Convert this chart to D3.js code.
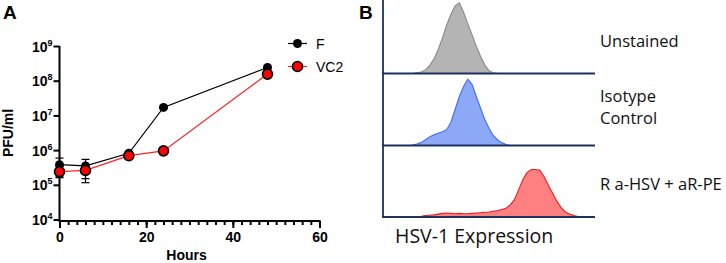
<!DOCTYPE html>
<html>
<head>
<meta charset="utf-8">
<script src="https://cdn.jsdelivr.net/npm/d3@7"></script>
<style>
  html, body { margin: 0; padding: 0; background: #fff; }
  svg { display: block; }
</style>
</head>
<body>
<svg id="chart" width="726" height="263"></svg>
<script>
// Panel A: growth curve
const hours = [0, 6, 16, 24, 48];
const fTiter = [3.8e5, 3.5e5, 8.1e5, 1.7e7, 2.4e8];
const fUpper = [5.9e5, 5.4e5, 8.6e5, 1.8e7, 2.5e8];
const fLower = [1.7e5, 1.15e5, 7.6e5, 1.6e7, 2.3e8];
const vc2Titer = [2.4e5, 2.6e5, 6.9e5, 9.5e5, 1.55e8];
const vc2Upper = [3.4e5, 2.9e5, 7.2e5, 9.9e5, 1.6e8];
const vc2Lower = [1.6e5, 1.5e5, 6.6e5, 9.1e5, 1.5e8];
const yTicks = [4, 5, 6, 7, 8, 9];
const xTicks = [0, 20, 40, 60];

// Panel B: flow histograms (counts per channel, % of scale)
const channels = d3.range(0, 101, 2);
const unstained = [0,0,0,0,0,0,0, 0,1,2,5,11,20,33,49,67,82,94,98,85,69,54,38,24,12,4,1,0,
  0,0,0,0,0,0,0,0,0,0,0,0,0,0,0,0,0,0,0,0,0,0,0];
const isotype = [0,0,0,0,0,0,0, 0.5,2,4,8,12,15,17,19,22,32,50,68,82,92,85,68,52,36,24,14,8,4,1.5,0,
  0,0,0,0,0,0,0,0,0,0,0,0,0,0,0,0,0,0,0,0];
const stained = [0,0,0,0,0,0,0,0,0.5,1,2,2.5,3,4,5,5.5,5,4.5,5,4.5,4.5,5,5.5,6,6.5,7,8,9,10.5,12,
  17,24,38,52,62,66,66,65,56,44,33,22,13,7,4,2,0.5,0,0,0,0];
const histLabels = [["Unstained"], ["Isotype", "Control"], ["R a-HSV + aR-PE"]];

const svg = d3.select("#chart");

// ---------- Panel A ----------
const x = d3.scaleLinear().domain([0, 60]).range([59.5, 319.5]);
const y = d3.scaleLog().domain([1e4, 1e9]).range([219.5, 46]);

svg.append("text").attr("x", 3).attr("y", 19)
  .attr("font-family", "Liberation Sans, Arial, sans-serif")
  .attr("font-weight", "bold").attr("font-size", 19).text("A");

const yAxis = svg.append("g")
  .attr("transform", `translate(${x(0)},0)`)
  .call(d3.axisLeft(y).tickValues(yTicks.map(e => Math.pow(10, e))).tickSize(6).tickFormat(""));
yAxis.select(".domain").attr("stroke-width", 2).attr("d", `M0,${y(1e9)}V221`);
yAxis.selectAll(".tick line").attr("stroke-width", 2);

const yLab = svg.append("g")
  .attr("font-family", "Liberation Sans, Arial, sans-serif")
  .attr("font-weight", "bold");
yTicks.forEach(e => {
  const t = yLab.append("text")
    .attr("x", 52.5).attr("y", y(Math.pow(10, e)) + 5.5)
    .attr("text-anchor", "end").attr("font-size", 14);
  t.append("tspan").text("10");
  t.append("tspan").attr("font-size", 9).attr("dy", -6).text(e);
});

const xAxisMinor = svg.append("g")
  .attr("transform", "translate(0,221)")
  .call(d3.axisBottom(x).tickValues(d3.range(0, 61, 2)).tickSize(4).tickFormat(""));
xAxisMinor.selectAll(".tick line").attr("stroke-width", 2);
xAxisMinor.select(".domain").attr("stroke-width", 2).attr("d", `M${x(0) - 1},0H${x(60) + 1}`);

const xAxis = svg.append("g")
  .attr("transform", "translate(0,221)")
  .call(d3.axisBottom(x).tickValues(xTicks).tickSize(7).tickPadding(4));
xAxis.select(".domain").remove();
xAxis.selectAll(".tick line").attr("stroke-width", 2);
xAxis.selectAll(".tick text")
  .attr("font-family", "Liberation Sans, Arial, sans-serif")
  .attr("font-weight", "bold").attr("font-size", 14).attr("fill", "#000");

svg.append("text").attr("x", x(30) - 3).attr("y", 260)
  .attr("text-anchor", "middle")
  .attr("font-family", "Liberation Sans, Arial, sans-serif")
  .attr("font-weight", "bold").attr("font-size", 14).text("Hours");

svg.append("text")
  .attr("transform", `translate(13,133) rotate(-90)`)
  .attr("text-anchor", "middle")
  .attr("font-family", "Liberation Sans, Arial, sans-serif")
  .attr("font-weight", "bold").attr("font-size", 14).text("PFU/ml");

const series = [
  { name: "F", vals: fTiter, up: fUpper, lo: fLower, line: "#000", fill: "#000", r: 4.5, sw: 0 },
  { name: "VC2", vals: vc2Titer, up: vc2Upper, lo: vc2Lower, line: "#f22", fill: "#f00", r: 5, sw: 1.6 }
];

const line = d3.line().x(d => x(d[0])).y(d => y(d[1]));
series.forEach(s => {
  svg.append("path")
    .attr("d", line(hours.map((h, i) => [h, s.vals[i]])))
    .attr("fill", "none").attr("stroke", s.line).attr("stroke-width", 1.2);
});

series.forEach(s => {
  const g = svg.append("g").attr("stroke", "#000").attr("stroke-width", 1.2);
  hours.forEach((h, i) => {
    g.append("line").attr("x1", x(h)).attr("x2", x(h)).attr("y1", y(s.up[i])).attr("y2", y(s.lo[i]));
    [s.up[i], s.lo[i]].forEach(v => {
      g.append("line").attr("x1", x(h) - 4).attr("x2", x(h) + 4).attr("y1", y(v)).attr("y2", y(v));
    });
  });
});

series.forEach(s => {
  svg.append("g").selectAll("circle").data(hours).join("circle")
    .attr("cx", h => x(h)).attr("cy", (h, i) => y(s.vals[i]))
    .attr("r", s.r).attr("fill", s.fill)
    .attr("stroke", "#000").attr("stroke-width", s.sw);
});

// legend
series.forEach((s, i) => {
  const ly = 43.5 + i * 23;
  svg.append("line").attr("x1", 288).attr("x2", 307).attr("y1", ly).attr("y2", ly)
    .attr("stroke", s.line).attr("stroke-width", 1.2);
  svg.append("circle").attr("cx", 297.5).attr("cy", ly).attr("r", s.r)
    .attr("fill", s.fill).attr("stroke", "#000").attr("stroke-width", s.sw);
  svg.append("text").attr("x", 316).attr("y", ly + 5)
    .attr("font-family", "Liberation Sans, Arial, sans-serif")
    .attr("font-size", 14).text(s.name);
});

// ---------- Panel B ----------
svg.append("text").attr("x", 359).attr("y", 19)
  .attr("font-family", "Liberation Sans, Arial, sans-serif")
  .attr("font-weight", "bold").attr("font-size", 19).text("B");

const xb = d3.scaleLinear().domain([0, 100]).range([383, 595]);
const baselines = [73.5, 145.5, 217];
const hists = [
  { data: unstained, fill: "#b4b4b4", stroke: "#8a8a8a" },
  { data: isotype, fill: "#8ca8f6", stroke: "#3d6ef2" },
  { data: stained, fill: "#ff8080", stroke: "#ee1c1c" }
];

hists.forEach((h, i) => {
  const yb = d3.scaleLinear().domain([0, 100]).range([baselines[i], baselines[i] - 72]);
  const area = d3.area().x(d => xb(d[0])).y0(baselines[i]).y1(d => yb(d[1]));
  const pts = channels.map((c, j) => [c, h.data[j]]).filter((d, j, a) =>
    d[1] > 0 || (a[j - 1] && a[j - 1][1] > 0) || (a[j + 1] && a[j + 1][1] > 0));
  svg.append("path").attr("d", area(pts)).attr("fill", h.fill);
  svg.append("path").attr("d", d3.line().x(d => xb(d[0])).y(d => yb(d[1]))(pts))
    .attr("fill", "none").attr("stroke", h.stroke).attr("stroke-width", 1.1);
});

const navy = "#1f3160";
baselines.forEach(b => {
  svg.append("line").attr("x1", 382).attr("x2", 595).attr("y1", b).attr("y2", b)
    .attr("stroke", navy).attr("stroke-width", 1.8);
});
svg.append("line").attr("x1", 383).attr("x2", 383).attr("y1", 0).attr("y2", 217.9)
  .attr("stroke", navy).attr("stroke-width", 1.8);

const labY = [[46.5], [101.5, 123.5], [190]];
histLabels.forEach((lines, i) => {
  lines.forEach((t, k) => {
    svg.append("text").attr("x", 600).attr("y", labY[i][k])
      .attr("font-family", "Open Sans, Liberation Sans, sans-serif")
      .attr("font-size", 16.5).attr("fill", "#111").text(t);
  });
});

svg.append("text").attr("x", 395).attr("y", 243)
  .attr("font-family", "Open Sans, Liberation Sans, sans-serif")
  .attr("font-size", 19.5).attr("fill", "#111").text("HSV-1 Expression");
</script>
</body>
</html>
